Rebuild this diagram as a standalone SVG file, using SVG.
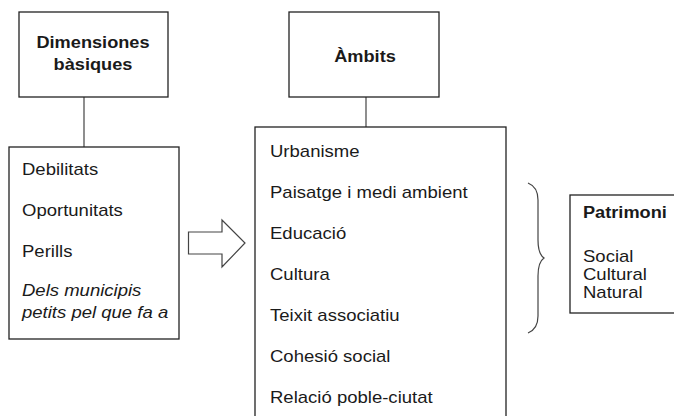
<svg xmlns="http://www.w3.org/2000/svg" width="674" height="416" viewBox="0 0 674 416">
<style>
.box{fill:#fff;stroke:#222;stroke-width:1.3}
.t{font-family:"Liberation Sans",Arial,sans-serif;font-size:16.4px;fill:#1a1a1a}
.b{font-weight:bold;font-size:17px}
.i{font-style:italic}
.ln{stroke:#444;stroke-width:1.2;fill:none}
</style>
<rect width="674" height="416" fill="#fff"/>
<g id="connectors">
<line class="ln" x1="84" y1="97" x2="84" y2="147"/>
<line class="ln" x1="366" y1="97" x2="366" y2="127"/>
<line class="ln" x1="473" y1="198" x2="506" y2="198"/>
<line class="ln" x1="353" y1="238" x2="506" y2="238"/>
<line class="ln" x1="335" y1="279" x2="506" y2="279"/>
<line class="ln" x1="407" y1="320" x2="506" y2="320"/>
<path class="ln" d="M203.5 232 H222 V220 L245 243 L222 267 V254 H188.5 V232 Z" stroke="#222"/>
<path class="ln" d="M528 183 Q538 187 538 200 V240 Q538 254 544 258 Q538 262 538 276 V316 Q538 329 528 333" stroke-width="1"/>
</g>
<g id="dimensiones">
<rect class="box" x="19" y="12" width="149" height="85"/>
<text class="t b" transform="translate(93 0) scale(1.07 1)" x="0" y="48" text-anchor="middle">Dimensiones</text>
<text class="t b" transform="translate(93 0) scale(1.07 1)" x="0" y="70" text-anchor="middle">bàsiques</text>
</g>
<g id="debilitats">
<rect class="box" x="9" y="147" width="170" height="192"/>
<g transform="translate(22 0) scale(1.13 1)">
<text class="t" x="0" y="175">Debilitats</text>
<text class="t" x="0" y="216">Oportunitats</text>
<text class="t" x="0" y="257">Perills</text>
<text class="t i" x="0" y="296">Dels municipis</text>
<text class="t i" x="0" y="318">petits pel que fa a</text>
</g>
</g>
<g id="ambits">
<rect class="box" x="289" y="12" width="150" height="85"/>
<text class="t b" transform="translate(365 0) scale(1.07 1)" x="0" y="62" text-anchor="middle">Àmbits</text>
</g>
<g id="llista">
<rect class="box" x="255" y="127" width="251" height="300"/>
<g transform="translate(270 0) scale(1.13 1)">
<text class="t" x="0" y="157">Urbanisme</text>
<text class="t" x="0" y="198">Paisatge i medi ambient</text>
<text class="t" x="0" y="239">Educació</text>
<text class="t" x="0" y="280">Cultura</text>
<text class="t" x="0" y="321">Teixit associatiu</text>
<text class="t" x="0" y="362">Cohesió social</text>
<text class="t" x="0" y="403">Relació poble-ciutat</text>
</g>
</g>
<g id="patrimoni">
<rect class="box" x="570" y="195" width="120" height="118"/>
<g transform="translate(583 0) scale(1.07 1)">
<text class="t b" x="0" y="218">Patrimoni</text>
</g>
<g transform="translate(583 0) scale(1.13 1)">
<text class="t" x="0" y="262">Social</text>
<text class="t" x="0" y="280">Cultural</text>
<text class="t" x="0" y="298">Natural</text>
</g>
</g>
</svg>
